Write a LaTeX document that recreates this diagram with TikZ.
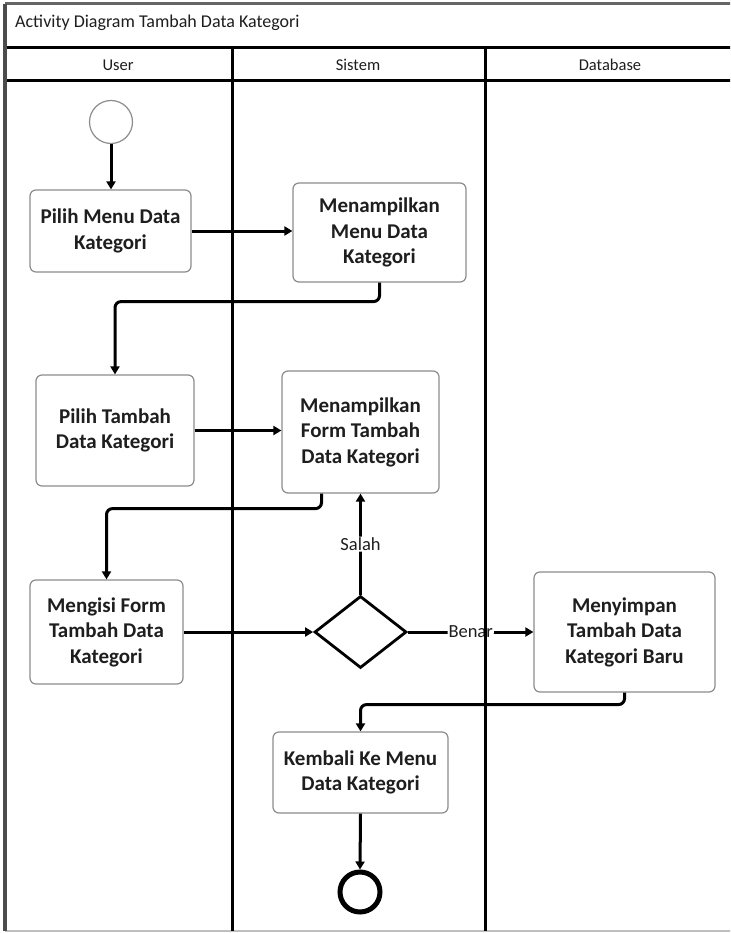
\documentclass[tikz,border=0pt]{standalone}
\usepackage{fontspec}
\setmainfont{Carlito}
\usetikzlibrary{arrows.meta,shapes.geometric}

\definecolor{boxline}{HTML}{8C8C8C}
\definecolor{ink}{HTML}{1E1E1E}

\tikzset{
  act/.style={draw=boxline, line width=1.2pt, rounded corners=6pt, fill=white,
    align=center, text=ink, inner sep=4pt,
    font=\fontsize{21}{25.5}\selectfont\bfseries},
  flow/.style={line width=3pt, -{Triangle[length=8pt,width=9pt]}, rounded corners=6pt},
  guard/.style={fill=white, inner sep=1pt, text=ink,
    font=\fontsize{18.5}{20}\selectfont},
  lane/.style={line width=3pt, black},
  headtext/.style={text=ink, font=\fontsize{16.5}{19}\selectfont},
}

\begin{document}
\begin{tikzpicture}[x=1pt,y=-1pt]
\useasboundingbox (0,0) rectangle (730,933);
\clip (0,0) rectangle (730,933);
\fill[white] (0,0) rectangle (730,933);

% swimlane titles
\node[headtext, anchor=west, inner sep=0pt, font=\fontsize{18}{20}\selectfont] (title) at (15,23) {Activity Diagram Tambah Data Kategori};
\node[headtext] (hUser) at (118,65) {User};
\node[headtext] (hSistem) at (358,65) {Sistem};
\node[headtext] (hDb) at (610,65) {Database};

% start node
\node[circle, draw=boxline, line width=1.2pt, minimum size=43pt, inner sep=0pt] (start) at (111,122) {};

% activities
\node[act, minimum width=161pt, minimum height=82pt]  (b1) at (110.5,231)   {Pilih Menu Data\\Kategori};
\node[act, minimum width=173pt, minimum height=99pt]  (b2) at (379.5,232.5) {Menampilkan\\Menu Data\\Kategori};
\node[act, minimum width=158pt, minimum height=111pt] (b3) at (115,430.5)   {Pilih Tambah\\Data Kategori};
\node[act, minimum width=157pt, minimum height=122pt] (b4) at (360.5,432)   {Menampilkan\\Form Tambah\\Data Kategori};
\node[act, minimum width=153pt, minimum height=104pt] (b5) at (106.5,632)   {Mengisi Form\\Tambah Data\\Kategori};
\node[act, minimum width=181pt, minimum height=120pt] (b6) at (624.5,632)   {Menyimpan\\Tambah Data\\Kategori Baru};
\node[act, minimum width=175pt, minimum height=81pt]  (b7) at (360.5,772.5) {Kembali Ke Menu\\Data Kategori};

% decision
\node[diamond, draw=black, line width=2.8pt, fill=white, minimum width=92pt, minimum height=72pt, inner sep=0pt] (dec) at (360.5,632) {};

% end node
\node[circle, draw=black, line width=5pt, minimum size=40pt, inner sep=0pt] (end) at (360,892) {};

% control flow
\draw[flow] (start.south) -- (start.south |- b1.north);
\draw[flow] (b1.east) -- (b1.east -| b2.west);
\draw[flow] (b2.south) -- ++(0,19) -| (b3.north);
\draw[flow] (b3.east) -- (b3.east -| b4.west);
\draw[flow] ([xshift=-39pt]b4.south) -- ++(0,15) -| (b5.north);
\draw[flow] (b5.east) -- (dec.west);
\draw[flow] (dec.north) -- node[guard] (gSalah) {Salah} (b4.south);
\draw[flow] (dec.east) -- node[guard, pos=0.5] (gBenar) {Benar} (b6.west);
\draw[flow] (b6.south) -- ++(0,12) -| (b7.north);
\draw[flow] (b7.south) -- (end.north);

% frame and lanes
\coordinate (tl) at (5,4);
\coordinate (br) at (735,931);
\draw[line width=3pt, black!60] (tl) -- (tl -| br);
\draw[line width=1.5pt, black!25] (br -| tl) -- (br);
\draw[lane] (5,48) -- (735,48);
\draw[lane] (5,81) -- (735,81);
\draw[lane] (232,48) -- (232,931);
\draw[lane] (485,48) -- (485,931);
\draw[line width=4pt, black!70] (tl) -- (tl |- br);
\end{tikzpicture}
\end{document}
